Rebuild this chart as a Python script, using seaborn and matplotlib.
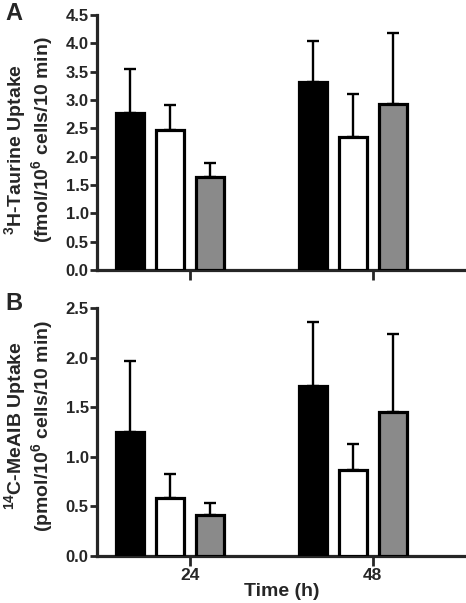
import matplotlib
matplotlib.use("Agg")
import matplotlib.pyplot as plt
import seaborn as sns
import pandas as pd

# ---- data ----
times = ["24", "48"]
groups = ["Group 1", "Group 2", "Group 3"]
taurine_mean = {"Group 1": [2.77, 3.32], "Group 2": [2.47, 2.35], "Group 3": [1.65, 2.93]}
taurine_err = {"Group 1": [0.78, 0.72], "Group 2": [0.44, 0.75], "Group 3": [0.24, 1.26]}
meaib_mean = {"Group 1": [1.25, 1.71], "Group 2": [0.58, 0.87], "Group 3": [0.41, 1.45]}
meaib_err = {"Group 1": [0.72, 0.65], "Group 2": [0.25, 0.26], "Group 3": [0.12, 0.79]}
colors = ["#000000", "#ffffff", "#8a8a8a"]
yticks_a = [0.0, 0.5, 1.0, 1.5, 2.0, 2.5, 3.0, 3.5, 4.0, 4.5]
yticks_b = [0.0, 0.5, 1.0, 1.5, 2.0, 2.5]
ylabel_a = ["$^{3}$H-Taurine Uptake", "(fmol/10$^{6}$ cells/10 min)"]
ylabel_b = ["$^{14}$C-MeAIB Uptake", "(pmol/10$^{6}$ cells/10 min)"]

sns.set_style("ticks")
plt.rcParams["font.family"] = ["Liberation Sans", "DejaVu Sans"]
plt.rcParams["font.weight"] = "bold"
plt.rcParams["axes.labelweight"] = "bold"
plt.rcParams["mathtext.fontset"] = "custom"
plt.rcParams["mathtext.bf"] = "Liberation Sans:bold"
plt.rcParams["mathtext.rm"] = "Liberation Sans:bold"
plt.rcParams["mathtext.default"] = "bf"

W, H = 466, 603
fig = plt.figure(figsize=(W / 100, H / 100), dpi=100)

def px_axes(left, top, right, bottom):
    return fig.add_axes([left / W, 1 - bottom / H, (right - left) / W, (bottom - top) / H])

ax_a = px_axes(97, 15, 466, 270)
ax_b = px_axes(97, 308, 466, 556)

def make_df(means):
    rows = []
    for g in groups:
        for t, v in zip(times, means[g]):
            rows.append({"Time": t, "Group": g, "Value": v})
    return pd.DataFrame(rows)

def draw(ax, means, errs, yticks, show_xlabels):
    df = make_df(means)
    sns.barplot(data=df, x="Time", y="Value", hue="Group", order=times,
                hue_order=groups, palette=colors, errorbar=None,
                width=0.656, gap=0.3, edgecolor="black", linewidth=2.3,
                legend=False, ax=ax, zorder=3)
    for cont, g in zip(ax.containers, groups):
        for bar, m, e in zip(cont.patches, means[g], errs[g]):
            xc = bar.get_x() + bar.get_width() / 2
            ax.errorbar([xc], [m], yerr=[[0], [e]], fmt="none", ecolor="black",
                        elinewidth=1.7, capsize=4.3, capthick=1.7, zorder=2)
    ax.set_ylim(0, yticks[-1])
    ax.set_yticks(yticks)
    ax.set_yticklabels([f"{v:.1f}" for v in yticks], fontsize=12, fontweight="bold")
    ax.set_xlim(-0.40, 1.62)
    ax.set_xticks([0.109, 1.109])
    if show_xlabels:
        ax.set_xticklabels(times, fontsize=12.5, fontweight="bold")
        ax.set_xlabel("Time (h)", fontsize=14, fontweight="bold", labelpad=0)
    else:
        ax.set_xticklabels([])
        ax.set_xlabel("")
    ax.set_ylabel("")
    sns.despine(ax=ax)
    for s in ["left", "bottom"]:
        ax.spines[s].set_linewidth(2.3)
    ax.tick_params(axis="y", length=5, width=2, pad=1)
    ax.tick_params(axis="x", length=7, width=2, pad=1.5)
    return ax

draw(ax_a, taurine_mean, taurine_err, yticks_a, False)
draw(ax_b, meaib_mean, meaib_err, yticks_b, True)

def ylab(lines, ys):
    for xpx, ypx, txt in zip([15, 42], ys, lines):
        fig.text(xpx / W, 1 - ypx / H, txt, rotation=90, ha="center", va="center",
                 fontsize=14, fontweight="bold")

ylab(ylabel_a, [150, 140])
ylab(ylabel_b, [426, 426])

fig.text(5 / W, 1 - 2 / H, "A", fontsize=17, fontweight="bold", va="top", ha="left")
fig.text(5 / W, 1 - 292 / H, "B", fontsize=17, fontweight="bold", va="top", ha="left")

fig.savefig("out.png", dpi=100)
